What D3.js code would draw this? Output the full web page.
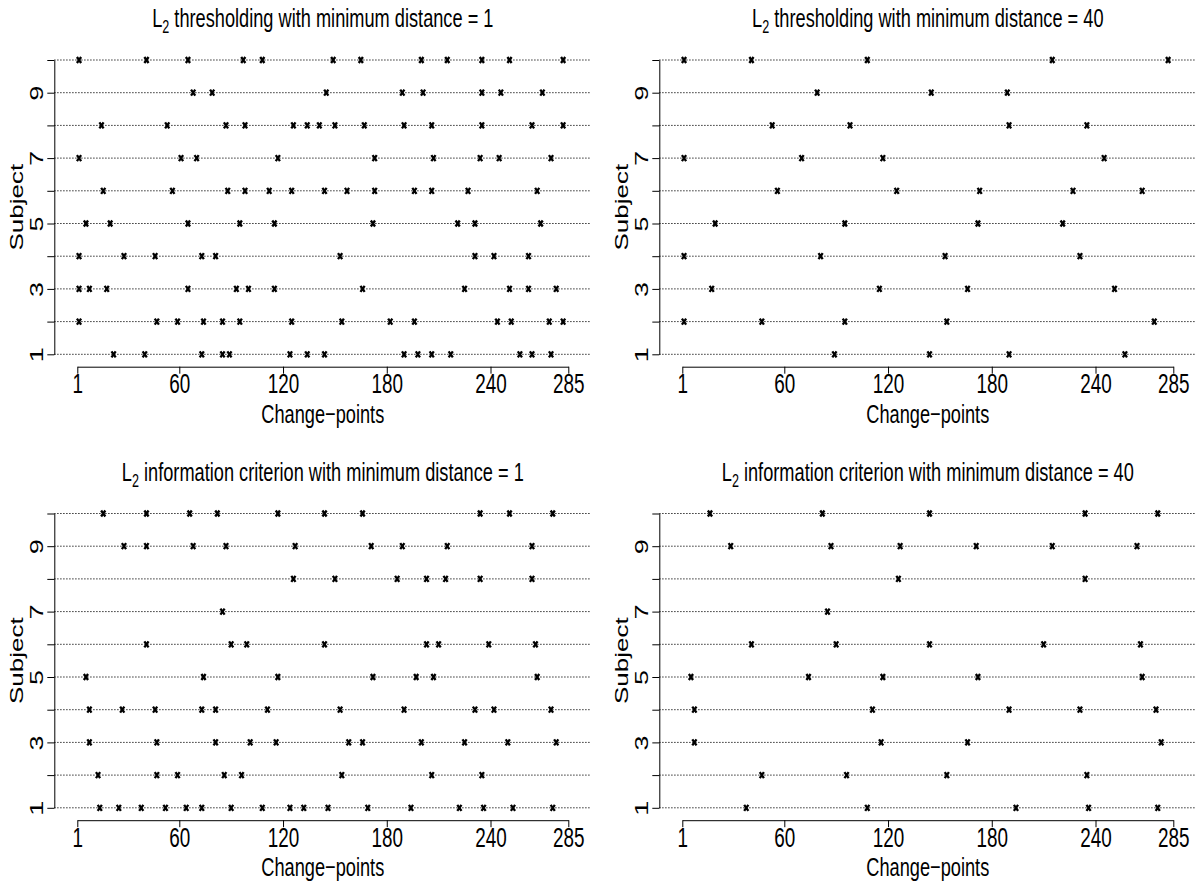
<!DOCTYPE html>
<html><head><meta charset="utf-8">
<script src="https://cdn.jsdelivr.net/npm/d3@7"></script>
<style>body{margin:0;background:#fff}</style></head>
<body><svg id="c" width="1199" height="886"></svg>
<script>
const subjects = [1,2,3,4,5,6,7,8,9,10];
const xTicks = [1,60,120,180,240,285];
const yLabelled = [1,3,5,7,9];
const titleMethods = ["thresholding","thresholding","information criterion","information criterion"];
const minDistances = [1,40,1,40];
const xLabel = "Change\u2212points";
const yLabel = "Subject";

// change-points per subject (index 0 = subject 1)
const cpThresh1 = [
  [22,40,73,85,89,124,134,144,190,198,206,217,257,264,275],
  [2,47,59,74,85,95,125,154,182,196,244,252,274,282],
  [2,8,18,65,93,100,115,166,225,251,262,278],
  [2,28,46,73,81,153,231,242,262],
  [6,20,65,95,115,172,221,231,269],
  [16,56,88,98,112,125,144,157,173,196,206,227,267],
  [2,61,70,117,173,207,234,245,275],
  [15,53,87,98,126,134,141,150,167,190,206,235,264,282],
  [68,79,145,189,201,235,246,270],
  [2,41,65,97,108,149,165,200,215,235,251,282]
];
const cpThresh40 = [
  [89,144,190,257],
  [2,47,95,154,274],
  [18,115,166,251],
  [2,81,153,231],
  [20,95,172,221],
  [56,125,173,227,267],
  [2,70,117,245],
  [53,98,190,235],
  [79,145,189],
  [2,41,108,215,282]
];
const cpIC1 = [
  [14,25,38,52,64,73,90,108,124,132,146,169,194,222,236,253,276],
  [13,47,59,86,96,154,206,235],
  [8,47,81,101,116,158,166,200,225,250,278],
  [8,27,46,73,81,111,153,190,231,242,275],
  [6,74,117,172,197,207,267],
  [41,90,99,144,203,210,239,266],
  [85],
  [126,150,186,203,214,234,264],
  [28,41,68,87,127,171,189,215,264],
  [16,41,66,82,117,144,166,234,251,276]
];
const cpIC40 = [
  [38,108,194,236,276],
  [47,96,154,235],
  [8,116,166,278],
  [8,111,190,231,275],
  [6,74,117,172,267],
  [41,90,144,210,266],
  [85],
  [126,234],
  [29,87,127,171,215,264],
  [17,82,144,234,276]
];

const svg = d3.select("#c");
const FONT = "'Liberation Sans', Arial, Helvetica, sans-serif";
const SX = 0.7;
const offsets = [[0,0],[605,0],[0,453.5],[605,453.5]];
const datasets = [cpThresh1, cpThresh40, cpIC1, cpIC40];

datasets.forEach((data, i) => {
  const [ox, oy] = offsets[i];
  const g = svg.append("g").attr("transform", `translate(${ox},${oy})`);
  const x = d3.scaleLinear().domain([1,285]).range([77.3,568.3]);
  const y = d3.scaleLinear().domain([1,10]).range([354.3,60]);
  const left = 54.3, right = 590;

  g.selectAll("line.grid").data(subjects).join("line").attr("class","grid")
    .attr("x1", left).attr("x2", right)
    .attr("y1", d => y(d)).attr("y2", d => y(d))
    .attr("stroke", "#000").attr("stroke-width", 1)
    .attr("stroke-dasharray", "1.2,1.8");

  const pts = data.flatMap((arr, k) => arr.map(v => ({s: subjects[k], v})));
  g.selectAll("path.pt").data(pts).join("path").attr("class","pt")
    .attr("transform", d => `translate(${x(d.v)},${y(d.s)})`)
    .attr("d", "M-2.1,-3L2.1,3M-2.1,3L2.1,-3")
    .attr("stroke", "#000").attr("stroke-width", 2.3);

  const xa = g.append("g").attr("transform", "translate(0,366.7)")
    .call(d3.axisBottom(x).tickValues(xTicks).tickFormat(d3.format("d")).tickSizeOuter(0).tickSizeInner(7));
  xa.attr("font-size", 27).attr("font-family", FONT);
  xa.selectAll("text").attr("y", 26.5).attr("dy", null).attr("fill", "#000")
    .attr("transform", `scale(${SX},1)`);

  const ya = g.append("g").attr("transform", `translate(${left},0)`)
    .call(d3.axisLeft(y).tickValues(subjects).tickFormat(d => yLabelled.includes(d) ? d : "").tickSizeOuter(0).tickSizeInner(7));
  ya.attr("font-size", 27).attr("font-family", FONT);
  ya.selectAll("text").attr("x", 0).attr("dy", null).attr("fill", "#000")
    .attr("text-anchor", "middle")
    .attr("transform", `translate(-11,0) scale(${SX},1) rotate(-90)`);

  g.append("text").attr("font-family", FONT).attr("font-size", 26)
    .attr("text-anchor", "middle")
    .attr("transform", `translate(23,${y(5.5)}) scale(${SX},1) rotate(-90)`)
    .text(yLabel);

  g.append("text").attr("font-family", FONT).attr("font-size", 26)
    .attr("text-anchor", "middle")
    .attr("transform", `translate(${x(143)},422.7) scale(${SX},1)`)
    .text(xLabel);

  const t = g.append("text").attr("font-family", FONT).attr("font-size", 26)
    .attr("text-anchor", "middle")
    .attr("transform", `translate(${x(143)},27) scale(${SX},1)`);
  t.append("tspan").text("L");
  t.append("tspan").attr("font-size", 18).attr("dy", 6).text("2");
  t.append("tspan").attr("dy", -6).text(` ${titleMethods[i]} with minimum distance = ${minDistances[i]}`);
});
</script>
</body></html>
